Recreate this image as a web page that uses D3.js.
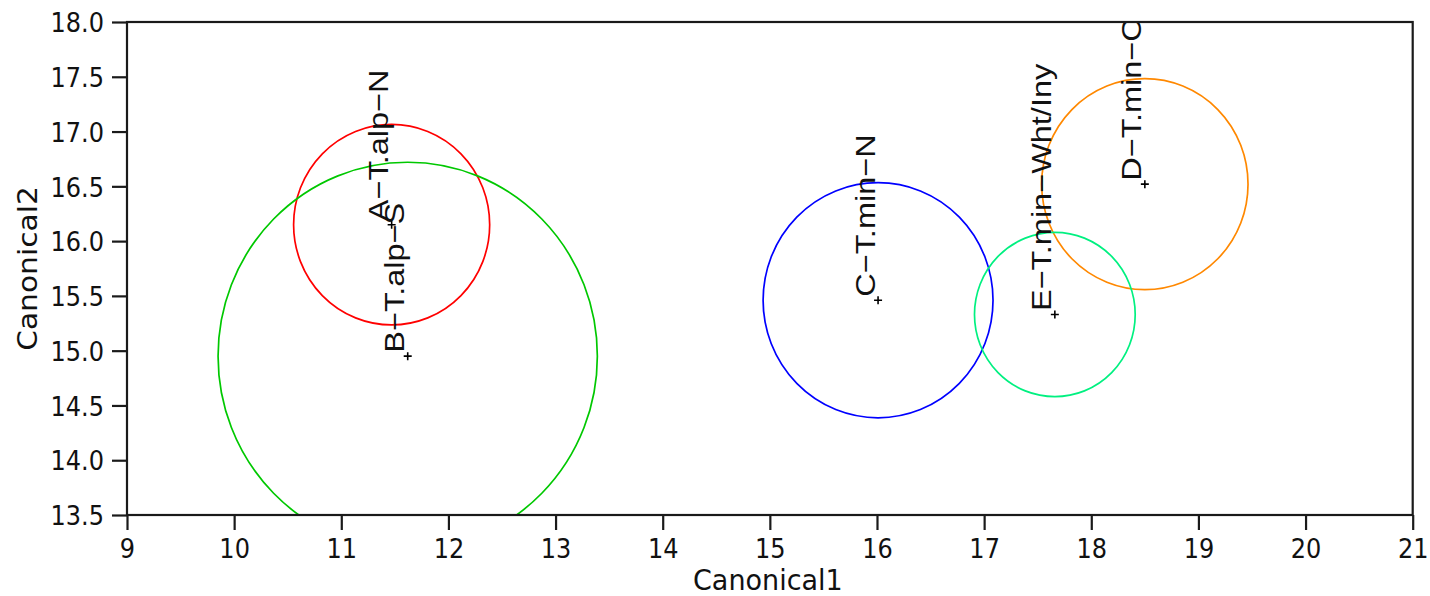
<!DOCTYPE html>
<html>
<head>
<meta charset="utf-8">
<script src="https://cdn.jsdelivr.net/npm/d3@7"></script>
<style>
  html, body { margin: 0; padding: 0; background: #fff; }
  svg { display: block; }
</style>
</head>
<body>
<svg id="chart"></svg>
<script>
// group means on the first two canonical axes, with circle radii
const groups = ["A\u2212T.alp\u2212N", "B\u2212T.alp\u2212S", "C\u2212T.min\u2212N", "D\u2212T.min\u2212C", "E\u2212T.min\u2212Wht/Iny"];
const canon1 = [11.47, 11.62, 16.01, 18.50, 17.66];
const canon2 = [16.15, 14.95, 15.46, 16.52, 15.33];
const radii = [0.915, 1.77, 1.073, 0.963, 0.75];
const circleColors = ["#ff0000", "#00c800", "#0000ff", "#ff8800", "#00f080"];

const xTicks = [9, 10, 11, 12, 13, 14, 15, 16, 17, 18, 19, 20, 21];
const yTicks = [13.5, 14.0, 14.5, 15.0, 15.5, 16.0, 16.5, 17.0, 17.5, 18.0];

const width = 1430, height = 596;
const margin = { top: 22, right: 17.3, bottom: 81, left: 127 };

const svg = d3.select("#chart")
    .attr("width", width)
    .attr("height", height);

const x = d3.scaleLinear().domain([9, 21]).range([margin.left, width - margin.right]);
const y = d3.scaleLinear().domain([13.5, 18]).range([height - margin.bottom, margin.top]);

// clip for the circles and labels
svg.append("clipPath").attr("id", "plotclip")
    .append("rect")
    .attr("x", x(9)).attr("y", y(18))
    .attr("width", x(21) - x(9)).attr("height", y(13.5) - y(18));

const plot = svg.append("g").attr("clip-path", "url(#plotclip)");

const data = groups.map((g, i) => ({ name: g, cx: canon1[i], cy: canon2[i], r: radii[i], color: circleColors[i] }));

// circles (radius in data units on each axis)
plot.selectAll("ellipse.grp")
    .data(data)
    .join("ellipse")
    .attr("class", "grp")
    .attr("cx", d => x(d.cx))
    .attr("cy", d => y(d.cy))
    .attr("rx", d => x(d.cx + d.r) - x(d.cx))
    .attr("ry", d => y(d.cy) - y(d.cy + d.r))
    .attr("fill", "none")
    .attr("stroke", d => d.color)
    .attr("stroke-width", 1.7);

// little + markers at the means
const cross = 4;
plot.selectAll("path.mark")
    .data(data)
    .join("path")
    .attr("class", "mark")
    .attr("d", d => {
        const px = x(d.cx), py = y(d.cy);
        return `M${px - cross},${py}H${px + cross}M${px},${py - cross}V${py + cross}`;
    })
    .attr("stroke", "#000")
    .attr("stroke-width", 1.6);

// rotated group labels
plot.selectAll("text.lab")
    .data(data)
    .join("text")
    .attr("class", "lab")
    .attr("transform", d => `translate(${x(d.cx) - 3.5},${y(d.cy) - 3.5}) scale(1,1.16) rotate(-90)`)
    .attr("font-family", "'Liberation Sans', Arial, sans-serif")
    .attr("font-size", 28)
    .attr("fill", "#111")
    .text(d => d.name);

// frame
svg.append("rect")
    .attr("x", x(9)).attr("y", y(18))
    .attr("width", x(21) - x(9)).attr("height", y(13.5) - y(18))
    .attr("fill", "none")
    .attr("stroke", "#1a1a1a")
    .attr("stroke-width", 2.2);

const tickFont = "'DejaVu Sans', Verdana, sans-serif";
const squeeze = 0.89;

// x axis
const xAxisGroup = svg.append("g")
    .attr("transform", `translate(0,${y(13.5)})`)
    .call(d3.axisBottom(x).tickValues(xTicks).tickFormat(d3.format("d")).tickSize(15).tickSizeOuter(0));
xAxisGroup.select(".domain").remove();
xAxisGroup.selectAll(".tick line").attr("stroke", "#1a1a1a").attr("stroke-width", 2.2);
xAxisGroup.selectAll(".tick text")
    .attr("y", 43)
    .attr("dy", 0)
    .attr("transform", `scale(${squeeze},1)`)
    .attr("font-family", tickFont)
    .attr("font-size", 27)
    .attr("fill", "#111");

// y axis
const yAxisGroup = svg.append("g")
    .attr("transform", `translate(${x(9)},0)`)
    .call(d3.axisLeft(y).tickValues(yTicks).tickFormat(d3.format(".1f")).tickSize(15).tickSizeOuter(0));
yAxisGroup.select(".domain").remove();
yAxisGroup.selectAll(".tick line").attr("stroke", "#1a1a1a").attr("stroke-width", 2.2);
yAxisGroup.selectAll(".tick text")
    .attr("x", -23 / squeeze)
    .attr("dy", "0.36em")
    .attr("transform", `scale(${squeeze},1)`)
    .attr("font-family", tickFont)
    .attr("font-size", 27)
    .attr("fill", "#111");

// axis titles
svg.append("text")
    .attr("transform", `translate(${(x(9) + x(21)) / 2 - 2},590) scale(1,1.08)`)
    .attr("text-anchor", "middle")
    .attr("font-family", tickFont)
    .attr("font-size", 27)
    .attr("fill", "#111")
    .text("Canonical1");

svg.append("text")
    .attr("transform", `translate(37,${(y(13.5) + y(18)) / 2}) scale(1,1.1) rotate(-90)`)
    .attr("text-anchor", "middle")
    .attr("font-family", tickFont)
    .attr("font-size", 27)
    .attr("fill", "#111")
    .text("Canonical2");
</script>
</body>
</html>
